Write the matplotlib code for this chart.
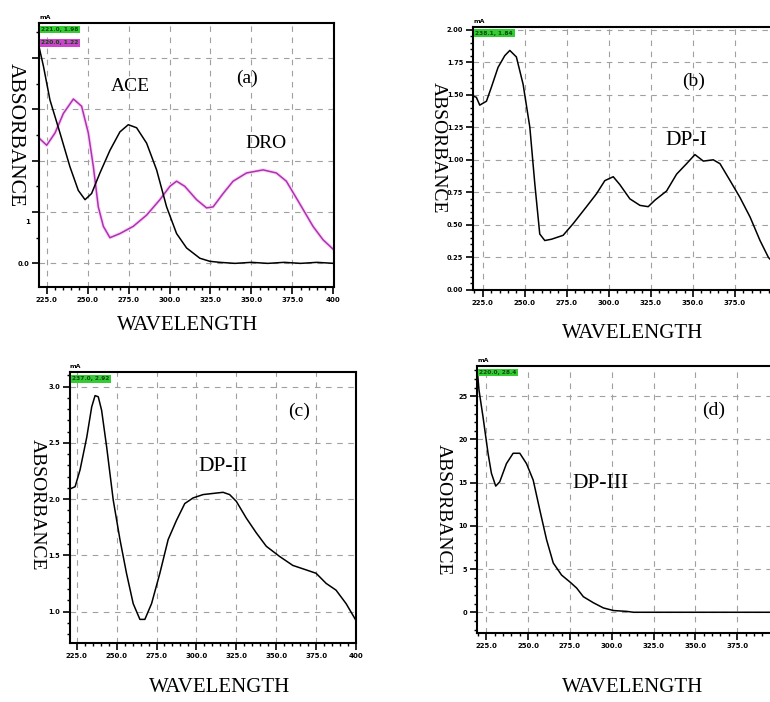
import matplotlib
matplotlib.use("Agg")
import matplotlib.pyplot as plt
from matplotlib.ticker import MultipleLocator

# ---------------- data ----------------
x_ticks = [225, 250, 275, 300, 325, 350, 375, 400]
x_tick_labels = ["225.0", "250.0", "275.0", "300.0", "325.0", "350.0", "375.0", "400"]

# (a) ACE and DRO
ace_x = [220.3, 223.0, 227.0, 233.1, 239.2, 244.3, 248.4, 252.4, 257.5, 263.6, 269.7,
         274.8, 279.9, 286.0, 292.1, 298.2, 304.3, 310.4, 318.5, 324.6, 330.7, 340,
         350, 360, 370, 380, 390, 400.4]
ace_y = [2.11, 1.92, 1.59, 1.27, 0.94, 0.71, 0.62, 0.68, 0.88, 1.10, 1.28,
         1.35, 1.32, 1.17, 0.91, 0.55, 0.29, 0.15, 0.05, 0.02, 0.01, 0.0,
         0.01, 0.0, 0.01, 0.0, 0.01, 0.0]
dro_x = [220.3, 225.0, 230.1, 235.2, 241.3, 246.3, 250.4, 253.5, 256.5, 259.6, 263.6,
         269.7, 277.8, 286.0, 294.1, 300.2, 304.3, 309.3, 316.5, 322.6, 326.6, 332.7,
         338.8, 347.0, 357.1, 365.2, 371.3, 379.5, 387.6, 393.7, 400.4]
dro_y = [1.22, 1.15, 1.27, 1.46, 1.60, 1.53, 1.27, 0.94, 0.55, 0.36, 0.25,
         0.29, 0.36, 0.47, 0.62, 0.75, 0.80, 0.75, 0.62, 0.54, 0.55, 0.68,
         0.80, 0.88, 0.91, 0.88, 0.80, 0.58, 0.36, 0.23, 0.13]

# (b) DP-I
dp1_x = [219.2, 221.2, 223.2, 227.2, 230.2, 234.1, 238.1, 241.1, 245.0, 249.0, 253.0,
         256.0, 258.9, 261.9, 265.9, 272.8, 278.8, 286.7, 292.7, 297.6, 302.6, 306.5,
         312.5, 318.5, 323.4, 327.4, 334.3, 340.3, 346.2, 351.2, 356.2, 362.1, 366.1,
         372.1, 378.0, 384.0, 389.9, 394.9, 400.0]
dp1_y = [1.49, 1.48, 1.42, 1.45, 1.56, 1.71, 1.80, 1.84, 1.79, 1.58, 1.25,
         0.81, 0.43, 0.38, 0.39, 0.42, 0.51, 0.64, 0.74, 0.84, 0.87, 0.81,
         0.70, 0.65, 0.64, 0.69, 0.76, 0.89, 0.97, 1.04, 0.99, 1.00, 0.97,
         0.84, 0.71, 0.56, 0.38, 0.25, 0.18]

# (c) DP-II
dp2_x = [220.8, 224.0, 227.1, 231.3, 234.4, 236.5, 238.5, 240.6, 243.8, 247.9, 252.1,
         256.2, 260.4, 264.6, 267.7, 271.9, 277.1, 282.3, 287.5, 292.7, 297.9, 304.2,
         310.4, 316.7, 320.8, 325.0, 331.3, 337.5, 343.8, 352.1, 360.4, 368.8, 375.0,
         381.3, 387.5, 393.8, 399.6]
dp2_y = [2.09, 2.11, 2.26, 2.55, 2.82, 2.92, 2.91, 2.79, 2.46, 1.99, 1.64,
         1.34, 1.07, 0.93, 0.93, 1.07, 1.34, 1.64, 1.81, 1.96, 2.01, 2.04,
         2.05, 2.06, 2.04, 1.98, 1.83, 1.70, 1.58, 1.49, 1.41, 1.37, 1.34,
         1.25, 1.19, 1.07, 0.93]

# (d) DP-III
dp3_x = [219.4, 220.6, 223.0, 226.0, 228.0, 230.6, 233.0, 237.0, 241.0, 245.0, 249.0,
         253.0, 257.0, 261.0, 265.0, 270.0, 275.0, 279.0, 283.0, 289.0, 295.0, 301.0,
         309.0, 313.0, 340.0, 370.0, 400.0]
dp3_y = [28.4, 25.7, 22.6, 18.4, 16.1, 14.6, 15.1, 17.2, 18.4, 18.4, 17.2,
         15.3, 11.8, 8.4, 5.7, 4.3, 3.5, 2.8, 1.8, 1.1, 0.5, 0.2,
         0.1, 0.0, 0.0, 0.0, 0.0]

# ---------------- figure ----------------
W, H = 770, 702
fig = plt.figure(figsize=(W / 100, H / 100), dpi=100)
fig.patch.set_facecolor("white")

SERIF = ["Liberation Serif", "DejaVu Serif"]


def px_axes(left, top, right, bottom):
    return fig.add_axes([left / W, 1 - bottom / H, (right - left) / W, (bottom - top) / H])


def style(ax, xlim, ylim, yticks, ylabels, ymin_step, nx=8):
    ax.set_xlim(*xlim)
    ax.set_ylim(*ylim)
    ax.set_xticks(x_ticks)
    ax.set_xticklabels(x_tick_labels[:nx] + [""] * (8 - nx), fontsize=5, fontweight="bold")
    ax.xaxis.set_minor_locator(MultipleLocator(5))
    ax.set_yticks(yticks)
    ax.set_yticklabels(ylabels, fontsize=4.8, fontweight="bold")
    ax.yaxis.set_minor_locator(MultipleLocator(ymin_step))
    ax.tick_params(axis="both", which="major", direction="out", length=5, width=1.2, pad=2)
    ax.tick_params(axis="both", which="minor", direction="out", length=2.5, width=1.0)
    ax.grid(True, which="major", color="#a0a0a0", linestyle=(0, (5, 5)), linewidth=0.8)
    for s in ax.spines.values():
        s.set_linewidth(1.5)
        s.set_color("black")
    ax.set_axisbelow(True)


def green_box(ax, txt, y=0.985, color="#33cc33"):
    ax.text(0.008, y, txt, transform=ax.transAxes, fontsize=4.2, fontweight="bold",
            color="#114411", va="top", ha="left",
            bbox=dict(boxstyle="square,pad=0.25", facecolor=color, edgecolor="none"))


def unit_mark(ax):
    ax.text(0.0, 1.012, "mA", transform=ax.transAxes, fontsize=4.5, fontweight="bold",
            va="bottom", ha="left", color="black")


# (a)
ax_a = px_axes(39, 23, 334, 287)
ax_a.plot(dro_x, dro_y, color="#f8d8f8", lw=2.6, solid_capstyle="round")
ax_a.plot(dro_x, dro_y, color="#b030b0", lw=1.1)
ax_a.plot(ace_x, ace_y, color="black", lw=1.1)
style(ax_a, (220.3, 400.4), (-0.23, 2.34), [0, 0.5, 1.0, 1.5, 2.0],
      ["0.0", "", "", "", ""], 0.25)
ax_a.text(-0.03, (0.4 + 0.23) / 2.57, "1", transform=ax_a.transAxes, fontsize=5,
          fontweight="bold", ha="right", va="center")
green_box(ax_a, "221.0, 1.98")
green_box(ax_a, "220.0, 1.22", y=0.935, color="#cc44cc")
unit_mark(ax_a)
ax_a.text(275.8, 1.72, "ACE", fontsize=14, family=SERIF, ha="center", va="center")
ax_a.text(347, 1.80, "(a)", fontsize=14, family=SERIF, ha="center", va="center")
ax_a.text(359, 1.17, "DRO", fontsize=14, family=SERIF, ha="center", va="center")

# (b)
ax_b = px_axes(473, 27, 777, 290)
ax_b.plot(dp1_x, dp1_y, color="black", lw=1.1)
style(ax_b, (219.2, 400), (0, 2.02), [0, 0.25, 0.5, 0.75, 1.0, 1.25, 1.5, 1.75, 2.0],
      ["0.00", "0.25", "0.50", "0.75", "1.00", "1.25", "1.50", "1.75", "2.00"], 0.05, nx=7)
green_box(ax_b, "238.1, 1.84")
unit_mark(ax_b)
ax_b.text(350.2, 1.60, "(b)", fontsize=14, family=SERIF, ha="center", va="center")
ax_b.text(346.2, 1.15, "DP-I", fontsize=15.5, family=SERIF, ha="center", va="center")

# (c)
ax_c = px_axes(70, 372, 356, 643)
ax_c.plot(dp2_x, dp2_y, color="black", lw=1.1)
style(ax_c, (220.8, 400), (0.72, 3.13), [1.0, 1.5, 2.0, 2.5, 3.0],
      ["1.0", "1.5", "2.0", "2.5", "3.0"], 0.1)
green_box(ax_c, "237.0, 2.92")
unit_mark(ax_c)
ax_c.text(364.6, 2.78, "(c)", fontsize=14, family=SERIF, ha="center", va="center")
ax_c.text(316.7, 2.29, "DP-II", fontsize=15.5, family=SERIF, ha="center", va="center")

# (d)
ax_d = px_axes(477, 366, 779, 633)
ax_d.plot(dp3_x, dp3_y, color="black", lw=1.1)
style(ax_d, (219.4, 400), (-2.4, 28.5), [0, 5, 10, 15, 20, 25],
      ["0", "5", "10", "15", "20", "25"], 1, nx=7)
green_box(ax_d, "220.0, 28.4")
unit_mark(ax_d)
ax_d.text(361, 23.4, "(d)", fontsize=14, family=SERIF, ha="center", va="center")
ax_d.text(293, 14.9, "DP-III", fontsize=15.5, family=SERIF, ha="center", va="center")


# axis titles
def ylab(x, y, size=14):
    fig.text(x / W, 1 - y / H, "ABSORBANCE", rotation=270, fontsize=size, family=SERIF,
             ha="center", va="center")


def xlab(x, y):
    fig.text(x / W, 1 - y / H, "WAVELENGTH", fontsize=15, family=SERIF,
             ha="center", va="center")


ylab(15, 135, 15.5)
xlab(188, 325)
ylab(438, 148)
xlab(633, 333)
ylab(37, 505)
xlab(220, 688)
ylab(443, 510)
xlab(633, 687)

fig.savefig("out.png", dpi=100, facecolor="white")
